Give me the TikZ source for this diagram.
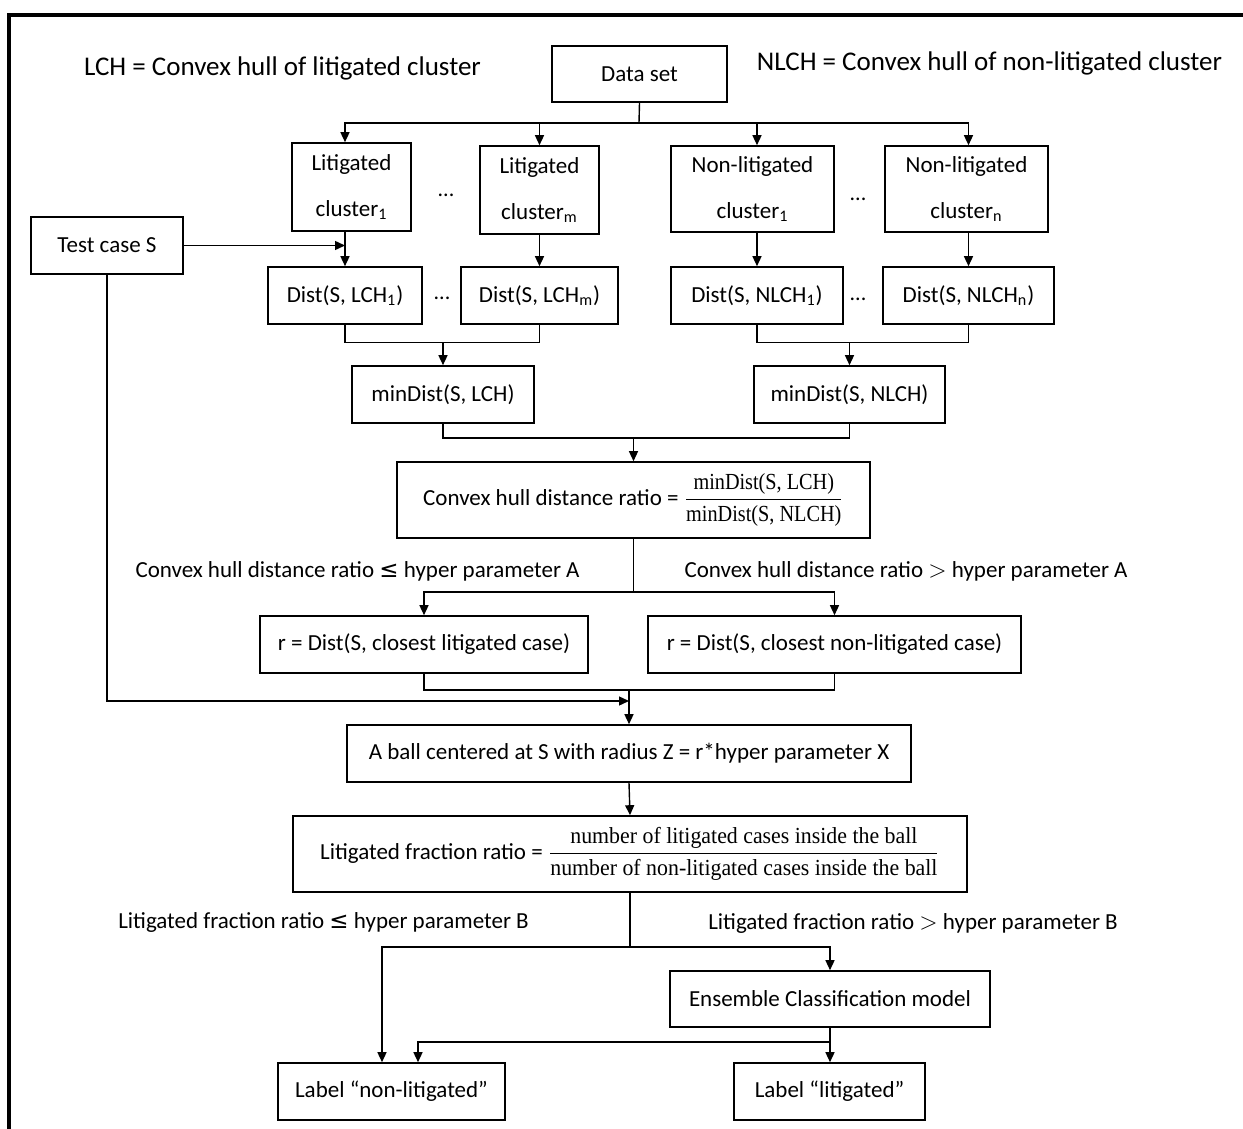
\documentclass[tikz,border=0pt]{standalone}
\usepackage{fontspec}
\usepackage{amsmath}
\setmainfont{Carlito}
\newfontfamily\serifc{Liberation Serif}[FakeStretch=0.88]
\newfontfamily\serifd{Liberation Serif}[FakeStretch=0.95]
\newfontfamily\symf{DejaVu Sans}
\usetikzlibrary{arrows.meta}
\tikzset{
  box/.style={draw, line width=0.8pt, inner sep=0pt, font=\fontsize{11.5}{13.5}\selectfont, align=center},
  ln/.style={line width=0.7pt},
  arr/.style={line width=0.7pt, -{Triangle[length=5pt,width=4.5pt]}},
  title/.style={font=\fontsize{13.5}{16}\selectfont, inner sep=0pt},
  cond/.style={font=\fontsize{11.5}{13.5}\selectfont, inner sep=0pt},
  dots/.style={font=\fontsize{11}{13}\selectfont, inner sep=0pt}
}
\begin{document}
\begin{tikzpicture}[x=0.5pt, y=-0.5pt]
\useasboundingbox (0,0) rectangle (1243,1129);
\draw[line width=1.6pt] (9,1129) -- (9,15) -- (1243,15);

% titles
\node[title] (tL) at (282.5,68) {LCH = Convex hull of litigated cluster};
\node[title] (tN) at (989.5,63) {NLCH = Convex hull of non-litigated cluster};

% boxes
\node[box, minimum width=87.5pt, minimum height=28pt] (data) at (639.5,74) {Data set};
\node[box, minimum width=59.5pt, minimum height=44pt] (lc1) at (351.5,187) {Litigated\\[9.5pt]cluster\textsubscript{1}};
\node[box, minimum width=59.5pt, minimum height=44pt] (lcm) at (539.5,190) {Litigated\\[9.5pt]cluster\textsubscript{m}};
\node[box, minimum width=81.5pt, minimum height=43pt] (nc1) at (752.5,189) {Non-litigated\\[9.5pt]cluster\textsubscript{1}};
\node[box, minimum width=81.5pt, minimum height=43pt] (ncn) at (966.5,189) {Non-litigated\\[9.5pt]cluster\textsubscript{n}};
\node[box, minimum width=76pt, minimum height=28.5pt] (test) at (107,245.5) {Test case S};
\node[box, minimum width=77pt, minimum height=28.5pt] (d1) at (345,295.5) {Dist(S, LCH\textsubscript{1})};
\node[box, minimum width=78.5pt, minimum height=28.5pt] (dm) at (539.5,295.5) {Dist(S, LCH\textsubscript{m})};
\node[box, minimum width=86pt, minimum height=28.5pt] (dn1) at (757,295.5) {Dist(S, NLCH\textsubscript{1})};
\node[box, minimum width=85.5pt, minimum height=28.5pt] (dnn) at (968.5,295.5) {Dist(S, NLCH\textsubscript{n})};
\node[box, minimum width=91pt, minimum height=28.5pt] (minL) at (443,394.5) {minDist(S, LCH)};
\node[box, minimum width=95.5pt, minimum height=28.5pt] (minN) at (849.5,394.5) {minDist(S, NLCH)};
\node[box, minimum width=236.5pt, minimum height=38pt] (chr) at (633.5,500)
  {Convex hull distance ratio = $\dfrac{\text{\serifc minDist(S, LCH)}}{\text{\serifc minDist(S, NLCH)}}$};
\node[box, minimum width=164pt, minimum height=28.5pt] (rL) at (424,644.5) {r = Dist(S, closest litigated case)};
\node[box, minimum width=186.5pt, minimum height=28.5pt] (rN) at (834.5,644.5) {r = Dist(S, closest non-litigated case)};
\node[box, minimum width=282pt, minimum height=28.5pt] (ball) at (629,753.5) {A ball centered at S with radius Z = r*hyper parameter X};
\node[box, minimum width=337pt, minimum height=38pt] (lfr) at (630,854)
  {Litigated fraction ratio = $\dfrac{\text{\serifd number of litigated cases inside the ball}}{\text{\serifd number of non-litigated cases inside the ball}}$};
\node[box, minimum width=160pt, minimum height=28pt] (ens) at (830,999) {Ensemble Classification model};
\node[box, minimum width=113.5pt, minimum height=28.5pt] (lnl) at (391.5,1091.5) {Label “non-litigated”};
\node[box, minimum width=95.5pt, minimum height=28.5pt] (ll) at (829.5,1091.5) {Label “litigated”};

% dots
\node[dots] (e1) at (446,195) {...};
\node[dots] (e2) at (858,199) {...};
\node[dots] (e3) at (442,298) {...};
\node[dots] (e4) at (858,299) {...};

% condition labels
\node[cond] (cA1) at (357.5,571) {Convex hull distance ratio {\symf ≤} hyper parameter A};
\node[cond] (cA2) at (906,571) {Convex hull distance ratio $>$ hyper parameter A};
\node[cond] (cB1) at (323.5,922) {Litigated fraction ratio {\symf ≤} hyper parameter B};
\node[cond] (cB2) at (913,923) {Litigated fraction ratio $>$ hyper parameter B};

% connectors
\coordinate (bus) at (639,123);
\draw[ln] (data.south) -- (bus);
\draw[arr] (bus) -| (d1 |- lc1.north);
\draw[arr] (bus) -| (dm |- lcm.north);
\draw[arr] (bus) -| (dn1 |- nc1.north);
\draw[arr] (bus) -| (dnn |- ncn.north);
\draw[arr] (d1 |- lc1.south) -- (d1.north);
\draw[arr] (dm |- lcm.south) -- (dm.north);
\draw[arr] (dn1 |- nc1.south) -- (dn1.north);
\draw[arr] (dnn |- ncn.south) -- (dnn.north);
\draw[arr] (test.east) -- (test.east -| d1);

\coordinate (jL) at (0,342.5);
\draw[ln] (d1.south) -- (d1.south |- jL) -- (dm.south |- jL) -- (dm.south);
\draw[arr] (minL.north |- jL) -- (minL.north);
\draw[ln] (dn1.south) -- (dn1.south |- jL) -- (dnn.south |- jL) -- (dnn.south);
\draw[arr] (minN.north |- jL) -- (minN.north);

\coordinate (jC) at (0,438);
\draw[ln] (minL.south) -- (minL.south |- jC) -- (minN.south |- jC) -- (minN.south);
\draw[arr] (chr.north |- jC) -- (chr.north);

\coordinate (jR) at (0,592);
\draw[ln] (chr.south) -- (chr.south |- jR);
\draw[arr] (chr.south |- jR) -| (rL.north);
\draw[arr] (chr.south |- jR) -| (rN.north);

\coordinate (jB) at (0,690);
\draw[ln] (rL.south) |- (ball.north |- jB);
\draw[ln] (rN.south) |- (ball.north |- jB);
\draw[arr] (ball.north |- jB) -- (ball.north);
\coordinate (jT) at (0,701);
\draw[arr] (test.south) |- (ball.north |- jT);

\draw[arr] (ball.south) -- (lfr.north);
\coordinate (jF) at (0,947);
\draw[ln] (lfr.south) -- (lfr.south |- jF);
\draw[arr] (lfr.south |- jF) -| ([xshift=-4.75pt]lnl.north);
\draw[arr] (lfr.south |- jF) -| (ens.north);
\coordinate (jE) at (0,1042);
\draw[arr] (ens.south) -- (ens.south |- ll.north);
\draw[arr] (ens.south |- jE) -| ([xshift=13.25pt]lnl.north);
\end{tikzpicture}
\end{document}
